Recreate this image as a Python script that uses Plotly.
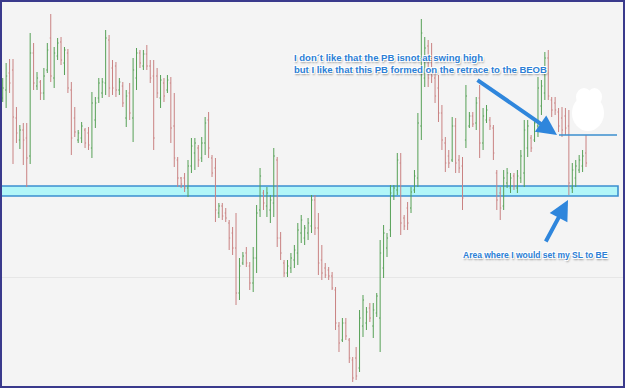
import plotly.graph_objects as go

# OHLC bars (price units, arbitrary scale) left to right
high = [310,325,329,329,281,263,265,265,355,345,316,308,320,345,374,341,350,351,341,339,
        306,281,258,266,260,261,296,291,310,310,358,353,328,326,310,306,298,305,330,340,
        338,338,343,328,328,320,313,310,313,311,295,231,211,215,228,250,250,243,251,271,
        276,233,230,185,185,180,168,161,175,130,136,141,126,141,183,220,198,201,193,240,
        231,156,128,128,135,143,165,173,163,170,193,193,175,143,125,121,116,101,66,70,
        70,50,31,41,78,93,81,85,85,95,148,163,155,203,203,235,235,173,186,201,
        218,275,369,351,348,345,316,313,283,251,238,271,270,233,231,303,276,276,291,303,
        280,283,271,263,218,201,218,220,215,215,218,238,268,268,253,270,311,308,336,338,
        291,291,280,281,280,278,225,228,233,238,253]
low = [286,280,295,224,245,239,223,201,224,298,298,288,288,315,306,300,328,323,313,295,
       233,251,245,245,240,238,230,260,285,290,293,291,293,291,293,281,261,268,246,298,
       320,318,318,305,238,290,280,286,295,245,221,201,200,196,191,215,218,221,226,233,
       230,211,166,170,168,166,138,133,83,88,123,121,98,96,115,171,178,171,165,171,
       141,128,111,111,115,120,123,145,143,148,155,153,113,108,110,108,98,58,36,46,
       48,25,6,8,16,51,58,66,50,71,36,110,131,151,188,193,153,158,158,175,
       195,201,248,301,301,305,285,266,238,216,220,226,215,215,178,240,260,261,258,230,
       238,265,258,228,178,168,178,200,195,198,195,205,201,231,236,246,251,273,288,288,
       271,273,256,251,253,193,195,201,215,216,221]
open_ = [290,298,315,318,270,248,258,250,232,335,302,306,295,318,350,310,332,346,325,335,
         298,270,248,250,258,255,240,268,290,295,305,348,320,322,298,302,270,295,270,310,
         335,322,334,322,312,312,290,305,298,305,262,228,210,210,200,222,235,240,230,245,
         268,230,220,175,182,175,165,155,140,95,125,135,122,105,130,178,195,182,178,185,
         228,150,125,115,120,128,135,155,150,155,162,188,160,128,120,118,112,98,62,48,
         65,48,28,30,20,62,65,80,62,75,70,120,140,158,192,198,225,170,180,180,
         198,210,262,310,342,330,310,300,275,245,232,228,262,228,222,248,262,272,265,290,
         245,268,268,260,215,195,182,205,200,212,200,210,215,240,250,248,262,282,295,330,
         288,285,276,270,272,262,200,210,218,222,235]
close = [300,312,305,271,255,258,248,230,335,305,310,295,312,338,312,335,345,328,338,300,
         250,256,255,262,245,243,285,285,305,306,350,300,300,298,306,285,292,275,318,335,
         325,334,322,310,250,295,308,292,308,260,230,210,204,200,222,242,245,228,245,265,
         240,215,178,182,172,170,150,140,95,122,132,125,105,130,175,212,185,195,188,232,
         150,135,115,122,130,138,158,168,160,165,188,160,125,115,113,112,100,65,45,65,
         52,30,10,12,70,88,76,70,78,92,135,155,150,195,200,228,165,162,165,196,
         212,265,355,340,310,312,292,275,248,225,225,262,225,220,190,292,272,264,285,245,
         272,278,262,235,188,180,210,215,210,202,212,232,258,262,240,265,300,302,330,292,
         278,278,262,258,260,205,218,222,228,232,225]
bar_index = list(range(len(high)))

# annotation / level values (price units)
support_zone = (192, 202)
entry_level = 253
note_top = ["I don\u00b4t like that the PB isnot at swing high",
            "but I like that this PB formed on the retrace to the BEOB"]
note_bottom = "Area where I would set my SL to BE"

W, H = 625, 388


def px(x, y):
    return x / W, 1 - y / H


fig = go.Figure()
fig.add_trace(go.Ohlc(
    x=bar_index, open=open_, high=high, low=low, close=close,
    increasing=dict(line=dict(color="#56a056", width=1)),
    decreasing=dict(line=dict(color="#c98282", width=1)),
    tickwidth=0.3, hoverinfo="skip", showlegend=False,
))

shapes = []
# support band
shapes.append(dict(type="rect", xref="paper", yref="y", x0=-0.01, x1=618 / W,
                   y0=support_zone[0], y1=support_zone[1], layer="below",
                   fillcolor="#b2f6f8", line=dict(color="#3b8fcf", width=1.6)))
# entry line
shapes.append(dict(type="line", xref="paper", yref="y", x0=559 / W, x1=617 / W,
                   y0=entry_level, y1=entry_level, line=dict(color="#3b8fcf", width=1.5)))
# white blob
for (cx0, cy0, cx1, cy1) in [(572, 95, 604, 131), (576, 88, 592, 106), (587, 88, 602, 106)]:
    a = px(cx0, cy1)
    b = px(cx1, cy0)
    shapes.append(dict(type="circle", xref="paper", yref="paper", x0=a[0], y0=a[1],
                       x1=b[0], y1=b[1], fillcolor="white", line=dict(width=0)))
# frame
shapes.append(dict(type="rect", xref="paper", yref="paper", x0=0, x1=1, y0=0, y1=1,
                   line=dict(color="#3a3a8c", width=4), fillcolor="rgba(0,0,0,0)"))

outline = "-1px -1px 0 #fff, 1px -1px 0 #fff, -1px 1px 0 #fff, 1px 1px 0 #fff, 1px 2px 2px rgba(0,0,0,0.45)"
tfont = dict(family="Liberation Sans, Arial, sans-serif",
             size=9.5, color="#2c7fd6", weight="bold", shadow=outline)
tfont2 = dict(tfont, size=8.5)

annotations = []
x, y = px(292, 64)
annotations.append(dict(xref="paper", yref="paper", x=x, y=y, xanchor="left", yanchor="middle",
                        text="<br>".join(note_top), showarrow=False, align="left", font=tfont))
x, y = px(610, 255)
annotations.append(dict(xref="paper", yref="paper", x=x, y=y, xanchor="right", yanchor="middle",
                        text=note_bottom, showarrow=False, align="left", font=tfont2))
# arrows
x, y = px(557, 135)
annotations.append(dict(xref="paper", yref="paper", x=x, y=y, ax=-81, ay=-56, text="",
                        showarrow=True, arrowhead=2, arrowsize=1, arrowwidth=4,
                        arrowcolor="#2f86dc", standoff=0))
x, y = px(568, 200)
annotations.append(dict(xref="paper", yref="paper", x=x, y=y, ax=-23, ay=43, text="",
                        showarrow=True, arrowhead=2, arrowsize=1, arrowwidth=4,
                        arrowcolor="#2f86dc", standoff=0))

fig.update_layout(
    width=W, height=H, margin=dict(l=0, r=0, t=0, b=0),
    paper_bgcolor="#f4f4f4", plot_bgcolor="#f4f4f4",
    shapes=shapes, annotations=annotations, showlegend=False,
    xaxis=dict(range=[-0.79, 181.36], visible=False, rangeslider=dict(visible=False)),
    yaxis=dict(range=[0, 388], showticklabels=False, zeroline=False,
               tickvals=[111], gridcolor="#e6e6e6", gridwidth=1),
)
fig.write_html("out.html")
